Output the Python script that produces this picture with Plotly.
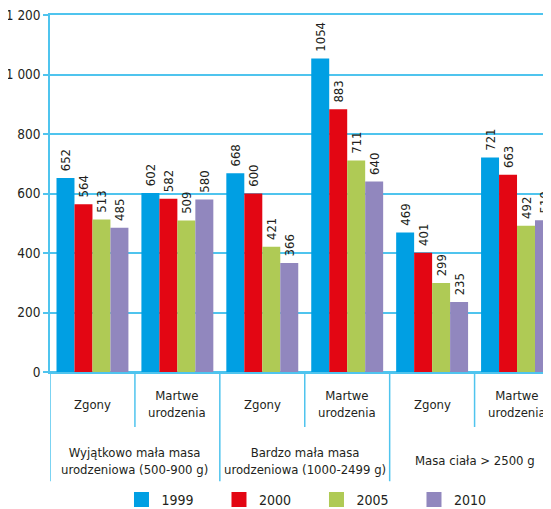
import plotly.graph_objects as go

# ---- data ----
positions = [0, 1, 2, 3, 4, 5]
inner_labels = ["Zgony", "Martwe<br>urodzenia", "Zgony", "Martwe<br>urodzenia", "Zgony", "Martwe<br>urodzenia"]
outer_labels = ["Wyjątkowo mała masa<br>urodzeniowa (500-900 g)",
                "Bardzo mała masa<br>urodzeniowa (1000-2499 g)",
                "Masa ciała > 2500 g"]
outer_centers = [0.5, 2.5, 4.5]
years = ["1999", "2000", "2005", "2010"]
v1999 = [652, 602, 668, 1054, 469, 721]
v2000 = [564, 582, 600, 883, 401, 663]
v2005 = [513, 509, 421, 711, 299, 492]
v2010 = [485, 580, 366, 640, 235, 510]
series = [v1999, v2000, v2005, v2010]
colors = ["#009FE3", "#E30613", "#AFCA55", "#9187BE"]
ytick_vals = [0, 200, 400, 600, 800, 1000, 1200]
ytick_text = ["0", "200", "400", "600", "800", "1 000", "1 200"]

FONT = "DejaVu Sans Condensed, Liberation Sans Narrow, sans-serif"
GRID = "#4FC4EE"
TXT = "#231F20"

fig = go.Figure()
for name, vals, col in zip(years, series, colors):
    fig.add_trace(go.Bar(
        x=positions, y=vals, name=name, marker=dict(color=col, line=dict(width=0)),
        text=[str(v) for v in vals], texttemplate="\u00a0%{text}",
        textposition="outside", textangle=-90, constraintext="none",
        cliponaxis=False, textfont=dict(family=FONT, size=13, color=TXT),
        showlegend=False, hoverinfo="skip"))

# legend entries
for name, col in zip(years, colors):
    fig.add_trace(go.Scatter(
        x=[None], y=[None], mode="markers", name=name,
        marker=dict(symbol="square", size=15, color=col, line=dict(width=0)),
        showlegend=True))

shapes = []
for xv in [0.5, 2.5, 4.5]:
    shapes.append(dict(type="line", xref="x", yref="paper", x0=xv, x1=xv,
                       y0=0, y1=-0.154, line=dict(color=GRID, width=1.5)))
for xv in [-0.5, 1.5, 3.5, 5.5]:
    shapes.append(dict(type="line", xref="x", yref="paper", x0=xv, x1=xv,
                       y0=0, y1=-0.306, line=dict(color=GRID, width=1.5)))

annotations = []
for xv, lab in zip(positions, inner_labels):
    annotations.append(dict(x=xv, y=-0.09, xref="x", yref="paper", text=lab,
                            showarrow=False, xanchor="center", yanchor="middle",
                            font=dict(family=FONT, size=13, color=TXT)))
for xv, lab in zip(outer_centers, outer_labels):
    annotations.append(dict(x=xv, y=-0.249, xref="x", yref="paper", text=lab,
                            showarrow=False, xanchor="center", yanchor="middle",
                            font=dict(family=FONT, size=13, color=TXT)))

# page body has an 8px margin: the figure is sized to fill the rest of the window
fig.update_layout(
    width=543, height=501,
    margin=dict(l=41.5, r=0, t=7, b=137, autoexpand=False),
    paper_bgcolor="white", plot_bgcolor="white",
    barmode="group", bargap=0.153, bargroupgap=0,
    font=dict(family=FONT, size=13, color=TXT),
    shapes=shapes, annotations=annotations,
    legend=dict(orientation="h", xref="container", yref="container",
                x=0.209, xanchor="left", y=0.018, yanchor="middle",
                entrywidth=52.5, entrywidthmode="pixels", itemwidth=30,
                font=dict(family=FONT, size=14, color=TXT), bgcolor="rgba(0,0,0,0)"),
    xaxis=dict(range=[-0.5, 5.4], showticklabels=False, showgrid=False,
               zeroline=False, showline=True, mirror=True, linecolor=GRID,
               linewidth=1.5, ticks="", fixedrange=True),
    yaxis=dict(range=[0, 1200], tickvals=ytick_vals, ticktext=ytick_text,
               ticklabeloverflow="allow",
               showgrid=True, gridcolor=GRID, gridwidth=1.5,
               zeroline=True, zerolinecolor=GRID, zerolinewidth=2,
               showline=True, linecolor=GRID, linewidth=1.5,
               ticks="outside", ticklen=5, tickcolor=GRID, tickwidth=1.5,
               tickfont=dict(family=FONT, size=13.5, color=TXT)),
)

fig.write_html("out.html")
